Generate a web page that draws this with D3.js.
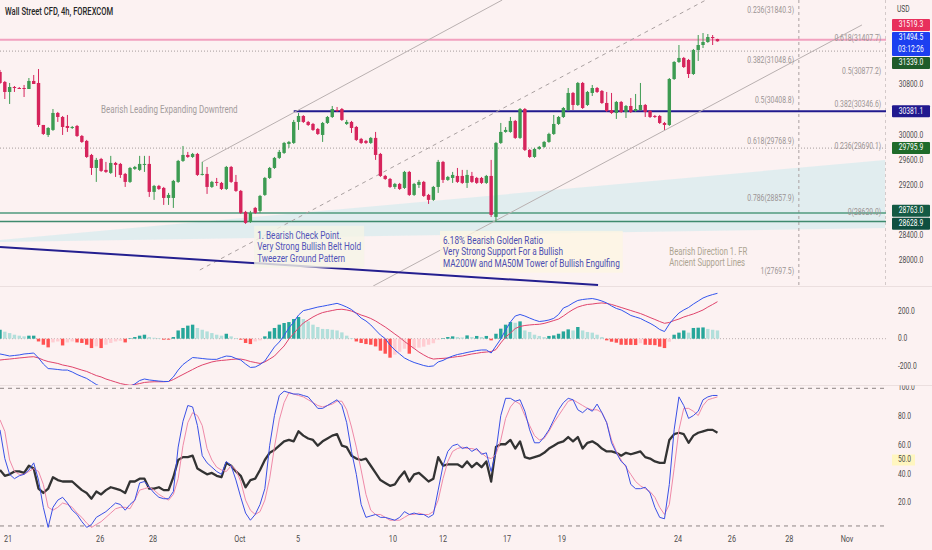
<!DOCTYPE html>
<html>
<head>
<meta charset="utf-8">
<script src="https://cdn.jsdelivr.net/npm/d3@7"></script>
<style>
html, body { margin: 0; padding: 0; background: #fcf2f2; }
svg { display: block; font-family: Roboto, "Noto Sans", sans-serif; }
</style>
</head>
<body>
<svg id="chart" width="932" height="550"></svg>
<script>
// ---- data ----
// [open, high, low, close], one per 4h bar
const candles = [
[31007,31039,30816,30832],[30848,30864,30577,30689],[30689,30832,30498,30768],[30768,30784,30689,30752],[30752,30768,30736,30745],
[30752,30800,30609,30736],[30736,30911,30736,30864],[30864,30959,30816,30816],[30832,31054,30132,30164],[30164,30164,30005,30021],
[30005,30130,29973,30116],[30085,30418,30069,30355],[30355,30371,30212,30291],[30291,30307,30005,30132],[30148,30323,30053,30116],
[30116,30148,30100,30132],[30148,30164,29973,29989],[29989,30005,29878,29894],[29910,29926,29640,29655],[29687,29703,29369,29480],
[29480,29640,29258,29608],[29623,29640,29417,29433],[29449,29576,29401,29417],[29401,29672,29385,29560],[29560,29576,29337,29528],
[29544,29560,29321,29369],[29385,29401,29178,29258],[29258,29496,29242,29480],[29465,29512,29449,29496],[29449,29672,29433,29544],
[29528,29672,29417,29544],[29544,29672,29019,29099],[29099,29210,28972,29194],[29194,29210,29130,29146],[29162,29178,28892,29003],
[29003,29083,28892,29051],[29003,29290,28844,29274],[29258,29608,29242,29592],[29592,29830,29576,29687],[29687,29735,29640,29655],
[29655,29719,29640,29703],[29703,29719,29353,29369],[29369,29576,29360,29385],[29385,29496,29067,29178],[29178,29274,29162,29258],
[29258,29321,29194,29242],[29242,29258,29130,29146],[29146,29512,29130,29496],[29496,29512,29242,29258],[29258,29369,29099,29115],
[29115,29130,28749,28765],[28781,28797,28590,28606],[28622,28797,28606,28765],[28844,28860,28749,28765],[28797,29051,28765,29035],
[29051,29337,29035,29321],[29321,29496,29305,29480],[29480,29655,29465,29640],[29640,29767,29623,29735],[29719,29894,29703,29878],
[29862,29910,29799,29894],[29878,30244,29862,30212],[30212,30355,30085,30307],[30307,30320,30196,30212],[30212,30228,30148,30164],
[30180,30196,30069,30085],[30100,30116,30005,30021],[30005,30212,29894,30196],[30196,30307,30180,30291],[30291,30466,30275,30418],
[30402,30450,30371,30387],[30418,30434,30228,30244],[30180,30244,30164,30212],[30212,30228,30037,30116],[30132,30148,29910,29926],
[29942,29958,29862,29878],[29910,29926,29862,29878],[29878,29973,29862,29958],[29958,30053,29608,29687],[29703,29719,29337,29353],
[29353,29369,29290,29305],[29305,29321,29162,29178],[29178,29242,29146,29226],[29226,29242,29130,29146],[29162,29433,29146,29417],
[29417,29433,29035,29051],[29051,29242,29035,29226],[29210,29290,29162,29258],[29258,29274,29019,29035],[29051,29067,28908,28972],
[28972,29194,28956,29178],[29178,29608,29083,29576],[29576,29592,29242,29290],[29290,29353,29274,29337],[29321,29417,29242,29369],
[29353,29480,29242,29258],[29353,29449,29226,29242],[29242,29449,29162,29369],[29353,29417,29242,29258],[29321,29337,29226,29242],
[29321,29337,29226,29242],[29242,29369,29226,29353],[29353,29608,28701,28733],[28701,29894,28630,29878],[29878,30196,29862,30053],
[30053,30130,30040,30085],[30053,30291,30040,30228],[30228,30244,29942,29958],[29958,30434,29942,30418],[30418,30434,29750,29767],
[29767,29780,29640,29655],[29655,29800,29640,29783],[29783,29830,29770,29815],[29815,29910,29800,29894],[29894,30040,29880,30021],
[30021,30323,30005,30180],[30180,30307,30164,30291],[30291,30450,30275,30434],[30402,30752,30390,30673],[30673,30689,30402,30482],
[30482,30848,30466,30832],[30832,30848,30418,30434],[30482,30705,30466,30689],[30673,30800,30625,30752],[30752,30768,30673,30689],
[30705,30720,30498,30514],[30514,30689,30371,30387],[30402,30673,30340,30355],[30355,30546,30260,30530],[30530,30546,30355,30371],
[30371,30482,30275,30466],[30466,30593,30355,30371],[30387,30657,30371,30418],[30402,30832,30390,30482],[30482,30498,30291,30371],
[30387,30402,30275,30291],[30307,30323,30275,30291],[30307,30323,30180,30196],[30196,30212,30085,30164],[30164,30911,30148,30895],
[30895,31180,30880,31166],[31166,31436,31150,31230],[31230,31246,31070,31086],[31198,31214,30911,30975],[30975,31373,30959,31357],
[31357,31595,31182,31436],[31436,31627,31388,31484],[31484,31611,31470,31563],[31563,31595,31436,31547],[31531,31535,31490,31495]
];

const macdLine = [
-111,-118,-126,-122,-118,-111,-108,-104,-140,-184,-217,-220,-224,-228,-228,-242,-260,-275,-289,-311,
-333,-348,-369,-387,-395,-395,-373,-348,-329,-304,-293,-300,-304,-308,-311,-311,-278,-228,-188,-162,
-137,-140,-144,-148,-150,-150,-137,-126,-129,-144,-155,-184,-209,-206,-188,-162,-111,-60,-24,23,
78,121,172,204,212,221,230,236,243,250,257,245,230,212,183,150,129,100,63,27,
1,-46,-82,-111,-140,-158,-173,-184,-195,-202,-198,-169,-158,-140,-126,-115,-108,-100,-93,-86,
-82,-82,-104,-53,-2,63,121,165,176,165,150,136,125,129,136,148,176,223,238,260,
278,285,289,292,285,274,260,238,220,209,190,169,158,147,129,112,92,67,52,107,
150,187,209,227,252,274,296,310,321,330
];
const signalLine = [
-155,-151,-148,-144,-140,-137,-133,-131,-140,-155,-166,-173,-180,-191,-198,-206,-217,-228,-238,-253,
-268,-278,-293,-304,-315,-326,-333,-339,-333,-326,-318,-315,-313,-313,-313,-311,-297,-278,-260,-242,
-224,-206,-191,-180,-169,-162,-158,-155,-151,-148,-148,-155,-166,-173,-180,-169,-148,-126,-89,-53,
-2,38,78,114,136,158,176,190,198,205,212,214,209,201,187,172,161,147,129,107,
85,60,34,9,-20,-46,-71,-97,-118,-137,-148,-145,-143,-140,-135,-130,-126,-118,-111,-106,
-100,-97,-93,-79,-31,12,41,74,89,96,100,103,105,111,121,132,143,165,190,212,
230,241,249,252,257,260,256,249,238,227,216,205,194,183,169,154,140,125,112,118,
132,143,158,169,180,194,209,230,249,269
];
const macdHist = [
65,51,41,29,22,17,22,22,-20,-44,-63,-27,-20,-49,-27,-20,-27,-31,-44,-68,
-56,-68,-44,-31,-20,-15,-27,4,12,22,29,12,7,5,-7,-7,12,60,78,95,
102,78,65,53,41,29,22,36,17,5,-7,-31,-39,-20,-12,17,53,78,102,114,
121,143,158,143,126,102,85,71,70,65,60,46,22,5,-20,-31,-39,-44,-56,-87,
-109,-138,-116,-95,-73,-109,-73,-65,-58,-44,-33,-7,4,12,17,12,9,24,12,20,
12,20,-12,36,73,102,121,116,126,60,49,29,20,12,20,24,36,53,68,60,
85,60,49,44,29,12,-12,-22,-29,-44,-45,-45,-46,-33,-44,-45,-47,-58,-68,-22,
29,44,60,44,78,80,82,71,65,60
];

const stochK = [
71,51,40,37,39,40,43,48,36,17,3,17,22,24,20,15,12,7,3,5,
10,12,14,17,20,19,15,19,22,34,35,31,27,24,23,23,28,59,77,88,
87,74,53,48,45,42,40,49,46,36,24,13,8,12,19,30,60,81,95,98,
97,96,96,95,94,90,86,86,88,90,92,88,76,56,40,19,10,11,12,10,
10,9,8,10,14,12,13,12,12,10,12,29,46,56,60,61,58,59,56,58,
54,55,42,56,81,93,93,91,92,84,71,62,62,66,71,78,85,90,93,92,
85,83,86,84,89,83,76,62,55,49,46,33,30,30,31,27,17,10,9,33,
71,94,88,79,81,84,92,94,95,95
];
const stochD = [
78,70,50,42,40,40,42,44,42,33,17,15,17,20,19,17,13,10,6,3,
5,7,10,13,16,17,17,16,22,29,30,31,29,26,24,22,26,37,60,76,
83,81,74,58,50,45,43,42,46,43,35,22,15,12,14,22,37,59,78,90,
97,96,95,94,92,90,88,87,88,89,91,91,85,73,59,43,26,15,12,12,
10,8,8,8,10,12,12,13,12,12,14,22,37,49,56,58,59,58,58,57,
55,52,51,54,64,79,87,91,89,81,74,67,64,65,70,76,81,86,91,92,
90,88,86,85,85,83,76,64,56,50,45,40,35,32,30,28,24,17,12,19,
44,71,86,86,84,81,88,92,93,94
];
const rsiLine = [
43,39,40,42,42,41,46,44,30,27,30,38,36,35,35,35,32,29,27,23,
28,26,29,31,30,29,27,35,35,37,37,30,30,31,29,29,38,50,52,52,
53,44,42,40,41,39,38,48,46,42,39,31,36,37,43,50,55,57,60,63,
64,63,70,67,65,64,60,63,65,67,68,60,59,53,51,50,51,46,41,36,
34,32,33,38,42,35,40,41,38,35,37,52,46,47,47,47,45,49,45,48,
45,49,35,59,61,61,64,58,63,52,51,52,53,55,58,60,62,63,66,63,
66,58,62,63,61,58,56,56,55,53,55,54,55,56,52,51,49,48,48,64,
68,69,68,62,67,69,70,71,71,69
];

const priceTicks = [28000, 28400, 29200, 29600, 30000, 30800];
const macdTicks = [200, 0, -200];
const stochTicks = [100, 80, 60, 40, 20];
const stochBands = [100, 4];
const dateTicks = [1.66, 20.8, 31.8, 49.8, 61.9, 81.6, 92, 105.3, 116.7, 140.8, 152, 163.9, 175.9];
const dateLabels = ["21", "26", "28", "Oct", "5", "10", "12", "17", "19", "24", "26", "28", "Nov"];

// price labels on the right scale
const priceMarks = [
  {price: 31519.3, text: "31519.3", color: "#e8305c"},
  {price: 31494.5, text: "31494.5", sub: "03:12:26", color: "#1c3ff0"},
  {price: 31339.0, text: "31339.0", color: "#1f5c2a"},
  {price: 30381.1, text: "30381.1", color: "#21198f"},
  {price: 29795.9, text: "29795.9", color: "#1f6b2a"},
  {price: 28763.0, text: "28763.0", color: "#145a44"},
  {price: 28628.9, text: "28628.9", color: "#0f4f40"}
];

// horizontal levels drawn on the chart [price, start bar]
const levelPrices = [31519.3, 31339.0, 30381.1, 29795.9, 28763.0, 28628.9];
const levelStart = [0, 0, 61, 0, 0, 0];

// fib labels
const fibLeftNames = ["0.236", "0.382", "0.5", "0.618", "0.786", "1"];
const fibLeftPrices = [31840.3, 31048.6, 30408.8, 29768.9, 28857.9, 27697.5];
const fibRightNames = ["0.618", "0.5", "0.382", "0.236", "0"];
const fibRightPrices = [31407.7, 30877.2, 30346.6, 29690.1, 28629.0];

// trend lines [bar, price] pairs
const channelTop = [[42, 29575], [104.3, 32152]];
const channelMid = [[41.5, 27857], [146.6, 32152]];
const channelLow = [[77.5, 27602], [179, 31755]];
const downLine = [[0, 28223], [124.2, 27618]];
const wedge = [[0, 28334], [183.8, 29607], [183.8, 28525], [0, 28302]];
const vLines = [165.9, 184];

const notes = [
  {at: [21, 30402], lines: ["Bearish Leading Expanding Downtrend"], color: "#a39c9c", size: 10.5},
  {at: [53.4, 28398], lines: ["1. Bearish Check Point.", "Very Strong Bullish Belt Hold", "Tweezer Ground Pattern"], color: "#5052b8", size: 10.8, box: "#f5f4e6"},
  {at: [92, 28318], lines: ["6.18% Bearish Golden Ratio", "Very Strong Support For a Bullish", "MA200W and MA50M Tower of Bullish Engulfing"], color: "#4a4cb0", size: 10.8, box: "#fcf5e2"},
  {at: [139, 28140], lines: ["Bearish Direction 1. FR", "Ancient Support Lines"], color: "#aca491", size: 10.2}
];

// ---- layout ----
const svg = d3.select("#chart");
const plotR = 886;
const x = d3.scaleLinear().domain([0, 184]).range([0, plotR]);
const yP = d3.scaleLinear().domain([27602, 32152]).range([286, 0]);
const yM = d3.scaleLinear().domain([-336.6, 375.9]).range([385, 287]);
const yS = d3.scaleLinear().domain([0, 100]).range([531.7, 388.3]);

const up = "#3d9b52", down = "#d6245c";

svg.append("rect").attr("width", 932).attr("height", 550).attr("fill", "#fcf2f2");

const defs = svg.append("defs");
defs.append("clipPath").attr("id", "cMain").append("rect").attr("x", 0).attr("y", 0).attr("width", plotR).attr("height", 286);
defs.append("clipPath").attr("id", "cMacd").append("rect").attr("x", 0).attr("y", 287).attr("width", plotR).attr("height", 98);
defs.append("clipPath").attr("id", "cStoch").append("rect").attr("x", 0).attr("y", 386).attr("width", plotR + 2).attr("height", 146);
defs.append("clipPath").attr("id", "cAxisS").append("rect").attr("x", 886).attr("y", 385.5).attr("width", 46).attr("height", 160);

// pane separators
svg.selectAll("line.sep").data([286.5, 385.5]).join("line").attr("class", "sep")
  .attr("x1", 0).attr("x2", 932).attr("y1", d => d).attr("y2", d => d)
  .attr("stroke", "#ebdfdf").attr("stroke-width", 1);

// ---- main pane ----
const main = svg.append("g").attr("clip-path", "url(#cMain)");
const line = d3.line().x(d => x(d[0])).y(d => yP(d[1]));

main.append("path").datum(wedge).attr("d", line.curve(d3.curveLinearClosed))
  .attr("fill", "#dcecef").attr("opacity", 0.85);
line.curve(d3.curveLinear);

vLines.forEach(v => {
  main.append("line").attr("x1", x(v)).attr("x2", x(v)).attr("y1", 0).attr("y2", 286)
    .attr("stroke", "#aaa1a1").attr("stroke-dasharray", "3,3").attr("stroke-width", 1);
});

const levelStyle = [
  {c: "#f2a1bf", w: 2, d: null},
  {c: "#a59c9c", w: 1, d: "1,2"},
  {c: "#211a8e", w: 2, d: null},
  {c: "#a59c9c", w: 1, d: "1,2"},
  {c: "#4f9a7e", w: 1.5, d: null},
  {c: "#3f8a6e", w: 1.5, d: null}
];
levelPrices.forEach((p, k) => {
  main.append("line").attr("x1", x(levelStart[k])).attr("x2", plotR)
    .attr("y1", yP(p)).attr("y2", yP(p))
    .attr("stroke", levelStyle[k].c).attr("stroke-width", levelStyle[k].w)
    .attr("stroke-dasharray", levelStyle[k].d);
});

main.append("path").datum(channelTop).attr("d", line).attr("fill", "none").attr("stroke", "#b9b0b0").attr("stroke-width", 1);
main.append("path").datum(channelMid).attr("d", line).attr("fill", "none").attr("stroke", "#aaa1a1").attr("stroke-width", 1).attr("stroke-dasharray", "4,4");
main.append("path").datum(channelLow).attr("d", line).attr("fill", "none").attr("stroke", "#b9b0b0").attr("stroke-width", 1);
main.append("path").datum(downLine).attr("d", line).attr("fill", "none").attr("stroke", "#241f8f").attr("stroke-width", 2);

// candles
const cg = main.append("g");
cg.selectAll("line.wick").data(candles).join("line").attr("class", "wick")
  .attr("x1", (d, i) => x(i)).attr("x2", (d, i) => x(i))
  .attr("y1", d => yP(d[1])).attr("y2", d => yP(d[2]))
  .attr("stroke", d => d[3] >= d[0] ? up : down).attr("stroke-width", 1);
cg.selectAll("rect.body").data(candles).join("rect").attr("class", "body")
  .attr("x", (d, i) => x(i) - 1.7).attr("width", 3.4)
  .attr("y", d => yP(Math.max(d[0], d[3])))
  .attr("height", d => Math.max(1, Math.abs(yP(d[0]) - yP(d[3]))))
  .attr("fill", d => d[3] >= d[0] ? up : down);

// fib labels
const texts = svg.append("g");
fibLeftNames.forEach((n, k) => {
  texts.append("text").attr("x", x(164.9)).attr("y", yP(fibLeftPrices[k]) - 8.5)
    .attr("text-anchor", "end").attr("dominant-baseline", "middle")
    .attr("font-size", 9).attr("fill", "#9b9494").text(n + "(" + fibLeftPrices[k].toFixed(1) + ")");
});
fibRightNames.forEach((n, k) => {
  texts.append("text").attr("x", x(183)).attr("y", yP(fibRightPrices[k]) - 8.5)
    .attr("text-anchor", "end").attr("dominant-baseline", "middle")
    .attr("font-size", 9).attr("fill", "#9b9494").text(n + "(" + fibRightPrices[k].toFixed(1) + ")");
});

// notes
const noteGroups = notes.map(n => {
  const g = svg.append("g");
  n.lines.forEach((t, k) => {
    g.append("text").attr("x", x(n.at[0])).attr("y", yP(n.at[1]) + k * 11.4)
      .attr("dominant-baseline", "middle").attr("font-size", n.size).attr("fill", n.color).text(t);
  });
  return {g, n};
});

// title
texts.append("text").attr("x", 5).attr("y", 12).attr("dominant-baseline", "middle")
  .attr("font-size", 10).attr("font-weight", 500).attr("fill", "#262626").text("Wall Street CFD, 4h, FOREXCOM");

// ---- MACD pane ----
const mg = svg.append("g").attr("clip-path", "url(#cMacd)");
mg.append("line").attr("x1", 0).attr("x2", plotR).attr("y1", yM(0)).attr("y2", yM(0))
  .attr("stroke", "#b9aeae").attr("stroke-dasharray", "1,2");
mg.selectAll("rect.h").data(macdHist).join("rect").attr("class", "h")
  .attr("x", (d, i) => x(i) - 1.7).attr("width", 3.4)
  .attr("y", d => yM(Math.max(0, d))).attr("height", d => Math.abs(yM(d) - yM(0)))
  .attr("fill", (d, i) => {
    const p = i ? macdHist[i - 1] : d;
    if (d >= 0) return d >= p ? "#26a69a" : "#b2dfdb";
    return d <= p ? "#ff5252" : "#ffcdd2";
  });
const lineM = d3.line().x((d, i) => x(i)).y(d => yM(d));
mg.append("path").datum(signalLine).attr("d", lineM).attr("fill", "none").attr("stroke", "#e0446c").attr("stroke-width", 1);
mg.append("path").datum(macdLine).attr("d", lineM).attr("fill", "none").attr("stroke", "#3355ee").attr("stroke-width", 1);

// ---- Stoch pane ----
const sg = svg.append("g").attr("clip-path", "url(#cStoch)");
stochBands.forEach(b => {
  sg.append("line").attr("x1", 0).attr("x2", 888).attr("y1", yS(b)).attr("y2", yS(b))
    .attr("stroke", "#8d8484").attr("stroke-dasharray", "4,4");
});
const lineS = d3.line().x((d, i) => x(i)).y(d => yS(d));
sg.append("path").datum(rsiLine).attr("d", lineS).attr("fill", "none").attr("stroke", "#333").attr("stroke-width", 2.3).attr("stroke-linejoin", "round");
sg.append("path").datum(stochD).attr("d", lineS).attr("fill", "none").attr("stroke", "#ef8aa8").attr("stroke-width", 1);
sg.append("path").datum(stochK).attr("d", lineS).attr("fill", "none").attr("stroke", "#3a50e6").attr("stroke-width", 1);

// ---- right axis ----
const ax = svg.append("g");
ax.append("text").attr("x", 897).attr("y", 10).attr("dominant-baseline", "middle")
  .attr("font-size", 8.8).attr("fill", "#4c4c4c").text("USD");
priceTicks.forEach(p => {
  ax.append("text").attr("x", 911).attr("y", yP(p)).attr("text-anchor", "middle").attr("dominant-baseline", "middle")
    .attr("font-size", 8.8).attr("fill", "#4c4c4c").text(p.toFixed(1));
});

// stack price labels so they do not overlap
const marks = priceMarks.map(m => ({...m, h: m.sub ? 24 : 12, yc: yP(m.price)})).sort((a, b) => a.yc - b.yc);
let groups = marks.map(m => ({items: [m]}));
function place(g) {
  const tot = d3.sum(g.items, d => d.h) + g.items.length - 1;
  const c = d3.mean(g.items, d => d.yc);
  g.top = c - tot / 2; g.bot = g.top + tot;
}
groups.forEach(place);
let merged = true;
while (merged) {
  merged = false;
  for (let k = 1; k < groups.length; k++) {
    if (groups[k].top < groups[k - 1].bot + 1) {
      groups[k - 1].items = groups[k - 1].items.concat(groups[k].items);
      place(groups[k - 1]); groups.splice(k, 1); merged = true; break;
    }
  }
}
groups.forEach(g => {
  let t = g.top;
  g.items.forEach(m => {
    ax.append("rect").attr("x", 892).attr("y", t).attr("width", 38).attr("height", m.h).attr("rx", 1).attr("fill", m.color);
    ax.append("text").attr("x", 911).attr("y", t + 6).attr("text-anchor", "middle").attr("dominant-baseline", "middle")
      .attr("font-size", 8.8).attr("fill", "#fff").text(m.text);
    if (m.sub) ax.append("text").attr("x", 911).attr("y", t + 18).attr("text-anchor", "middle").attr("dominant-baseline", "middle")
      .attr("font-size", 8.8).attr("fill", "#fff").text(m.sub);
    t += m.h + 1;
  });
});

macdTicks.forEach(v => {
  ax.append("text").attr("x", 898).attr("y", yM(v)).attr("dominant-baseline", "middle")
    .attr("font-size", 8.8).attr("fill", "#4c4c4c").text(v.toFixed(1));
});
const sAx = ax.append("g").attr("clip-path", "url(#cAxisS)");
sAx.append("rect").attr("x", 892).attr("y", yS(50) - 5.5).attr("width", 23).attr("height", 11).attr("fill", "#fff6c0");
stochTicks.concat([50]).forEach(v => {
  sAx.append("text").attr("x", 898).attr("y", yS(v) - (v === 100 ? 1 : 0)).attr("dominant-baseline", "middle")
    .attr("font-size", 8.8).attr("fill", "#4c4c4c").text(v.toFixed(1));
});

// date axis
dateTicks.forEach((d, k) => {
  ax.append("text").attr("x", x(d)).attr("y", 539).attr("text-anchor", "middle").attr("dominant-baseline", "middle")
    .attr("font-size", 9.5).attr("fill", "#4c4c4c").text(dateLabels[k]);
});

// narrow all text like the source rendering
svg.selectAll("text").each(function () {
  const w = this.getComputedTextLength();
  d3.select(this).attr("textLength", w * 0.76).attr("lengthAdjust", "spacingAndGlyphs");
});

// note boxes behind the text
noteGroups.forEach(({g, n}) => {
  if (!n.box) return;
  const b = g.node().getBBox();
  g.insert("rect", ":first-child").attr("x", b.x - 3).attr("y", b.y - 3)
    .attr("width", b.width + 6).attr("height", b.height + 6).attr("fill", n.box).attr("opacity", 0.8);
});
</script>
</body>
</html>
